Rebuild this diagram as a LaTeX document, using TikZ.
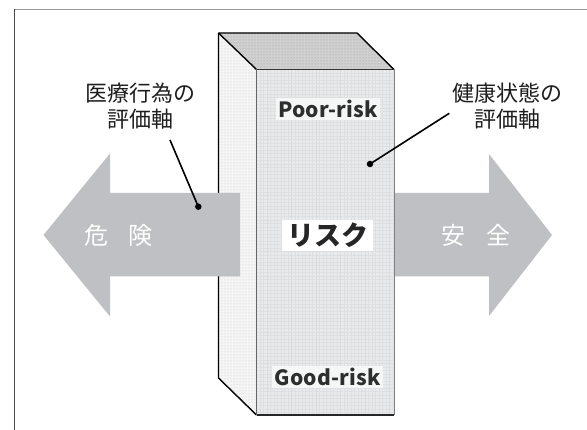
\documentclass[tikz,border=0pt]{standalone}
\usepackage{fontspec}
\setmainfont{Noto Sans CJK JP}
\usetikzlibrary{patterns}
\definecolor{arrowgray}{HTML}{BFC0C3}
\definecolor{frontface}{HTML}{E9EAEC}
\definecolor{gridc}{HTML}{DEDFE1}
\definecolor{sideface}{HTML}{F5F5F5}
\definecolor{topface}{HTML}{D0D0D0}
\definecolor{labeltext}{HTML}{1E1E1E}
\definecolor{risktextc}{HTML}{2E2E2E}
\begin{document}
\begin{tikzpicture}[x=1pt,y=-1pt,
  lbl/.style={font=\fontsize{22}{26}\selectfont, text=labeltext, align=center, inner sep=0pt},
  arrowtext/.style={font=\fontsize{24}{24}\selectfont, text=white, inner sep=0pt},
  risktext/.style={font=\fontsize{21}{21}\selectfont\bfseries\addfontfeature{LetterSpace=1}, text=risktextc, inner sep=2pt},
  dotmark/.style={circle, fill=black, inner sep=0pt, minimum size=6.5pt},
  leader/.style={line width=1.6pt, black},
  edge/.style={line width=1.4pt, black},
  arrowshape/.style={fill=arrowgray, draw=none}]
\useasboundingbox (0,0) rectangle (587,430);
\fill[white] (0,0) rectangle (587,430);
% frame
\draw[line width=1.3pt, color=black!40] (14,9.5) -- (587,9.5);
\draw[line width=1.3pt, color=black!70] (14.3,9) -- (14.3,430);
% right arrow
\fill[arrowshape] (394,193) -- (489,193) -- (489,154) -- (552,235) -- (489,316) -- (489,276.5) -- (394,276.5) -- cycle;
% box coordinates
\coordinate (A) at (218.5,33);
\coordinate (B) at (357,33);
\coordinate (C) at (256.5,69.5);
\coordinate (D) at (394,69.5);
\coordinate (E) at (218.5,378);
\coordinate (F) at (256.5,415);
\coordinate (G) at (394,415);
% faces
\fill[sideface] (A) -- (C) -- (F) -- (E) -- cycle;
\fill[pattern=dots, pattern color=black!22] (A) -- (C) -- (F) -- (E) -- cycle;
\fill[topface] (A) -- (B) -- (D) -- (C) -- cycle;
\fill[pattern=dots, pattern color=black!40] (A) -- (B) -- (D) -- (C) -- cycle;
\fill[frontface] (C) -- (D) -- (G) -- (F) -- cycle;
\begin{scope}
\clip (C) -- (D) -- (G) -- (F) -- cycle;
\foreach \i in {0,...,40} {\draw[gridc, line width=0.3pt] (256.5+3.5*\i,69.5) -- (256.5+3.5*\i,415);}
\foreach \j in {0,...,100} {\draw[gridc, line width=0.3pt] (256.5,69.5+3.5*\j) -- (394,69.5+3.5*\j);}
\foreach \i in {3,10,17,24,31,38} {\draw[black!14, line width=0.4pt] (256.5+3.5*\i,69.5) -- (256.5+3.5*\i,415);}
\end{scope}
% edges
\draw[edge] (A) -- (B) -- (D);
\draw[edge] (A) -- (C);
\draw[edge] (A) -- (E) -- (F);
\draw[line width=0.9pt, black!80] (C) -- (D);
\draw[line width=0.7pt, black!60] (C) -- (F);
\draw[line width=0.7pt, black!50] (D) -- (G);
\draw[line width=2pt, black!85] (F) -- (G);
% left arrow
\fill[arrowshape] (43.5,235) -- (110,153.5) -- (110,193) -- (240,193) -- (240,276.5) -- (110,276.5) -- (110,316.5) -- cycle;
% texts
\node[arrowtext] (danger) at (118.5,235) {危\hspace{20pt}険};
\node[arrowtext] (safe) at (475.5,235) {安\hspace{21pt}全};
\node[risktext, fill=white!55!frontface] (poor) at (328,109) {Poor-risk};
\node[risktext, fill=white!55!frontface] (good) at (327.5,377) {Good-risk};
\node[font=\fontsize{27}{27}\selectfont\bfseries, text=black!85, fill=white, inner xsep=5pt, inner ysep=3pt] (risk) at (327.5,235.5) {リスク};
\node[lbl] (lab1) at (140.5,106) {医療行為の\\評価軸};
\node[lbl] (lab2) at (507,106) {健康状態の\\評価軸};
% leaders
\coordinate (s1) at (170,140);
\coordinate (s2) at (449.3,113.3);
\node[dotmark] (d1) at (198.3,206.7) {};
\node[dotmark] (d2) at (370,164) {};
\draw[leader] (s1) -- (d1.center);
\draw[leader] (s2) -- (d2.center);
\end{tikzpicture}
\end{document}
